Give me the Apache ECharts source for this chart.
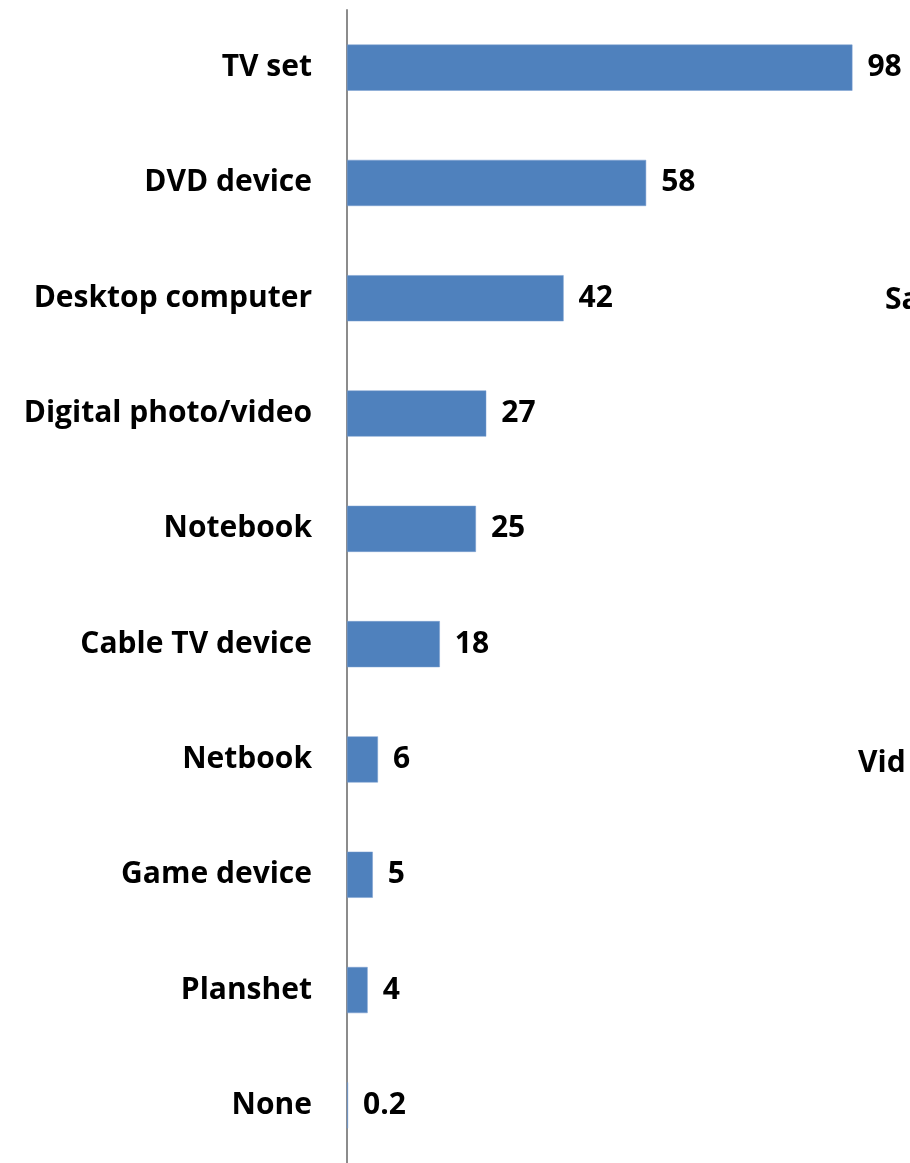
<!DOCTYPE html>
<html>
<head>
<meta charset="utf-8">
<script src="https://cdn.jsdelivr.net/npm/echarts@6/dist/echarts.min.js"></script>
<style>
  html, body { margin: 0; padding: 0; background: #ffffff; }
  #chart { width: 910px; height: 1163px; }
</style>
</head>
<body>
<div id="chart"></div>
<script>
// Devices owned, per cent
const categories = [
  'TV set', 'DVD device', 'Desktop computer', 'Digital photo/video',
  'Notebook', 'Cable TV device', 'Netbook', 'Game device', 'Planshet', 'None'
];
const values = [98, 58, 42, 27, 25, 18, 6, 5, 4, 0.2];
// Partial headings of the neighbouring panel, cut by the page edge
const sideTexts = ['Sa', 'Vid'];

const FONT = '"Open Sans", sans-serif';
const chart = echarts.init(document.getElementById('chart'), null, { renderer: 'canvas' });

chart.setOption({
  animation: false,
  backgroundColor: '#ffffff',
  grid: { left: 347, top: 10, width: 557, height: 1157, containLabel: false },
  xAxis: {
    type: 'value', min: 0, max: 108, show: false
  },
  yAxis: {
    type: 'category',
    data: categories,
    inverse: true,
    axisLine: { show: true, lineStyle: { color: '#8c8c8c', width: 2 } },
    axisTick: { show: false },
    splitLine: { show: false },
    axisLabel: {
      margin: 35,
      color: '#000000',
      fontFamily: FONT,
      fontWeight: 'bold',
      fontSize: 30,
      padding: [9, 0, 0, 0]
    }
  },
  series: [{
    type: 'bar',
    data: values,
    barWidth: '40%',
    itemStyle: { color: '#4f81bd', borderColor: '#7a9fd0', borderWidth: 0.5 },
    label: {
      show: true,
      position: 'right',
      distance: 15,
      color: '#000000',
      fontFamily: FONT,
      fontWeight: 'bold',
      fontSize: 30,
      padding: [9, 0, 0, 0]
    }
  }],
  graphic: [
    { type: 'text', left: 885, top: 285, style: { text: sideTexts[0], fill: '#000', font: 'bold 30px ' + FONT } },
    { type: 'text', left: 858, top: 748, style: { text: sideTexts[1], fill: '#000', font: 'bold 30px ' + FONT } }
  ]
});
</script>
</body>
</html>
